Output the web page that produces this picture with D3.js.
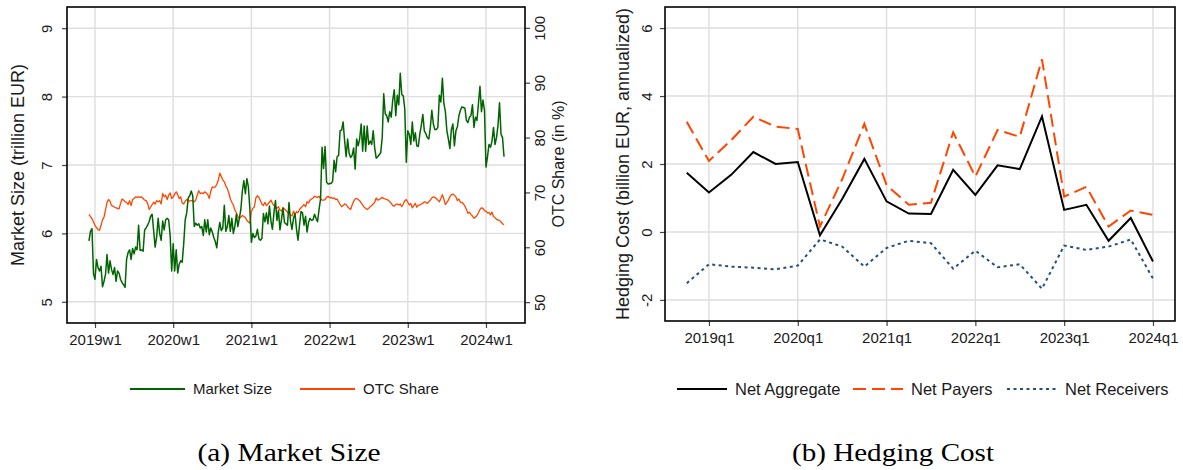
<!DOCTYPE html>
<html>
<head>
<meta charset="utf-8">
<script src="https://cdn.jsdelivr.net/npm/d3@7"></script>
<style>
  body { margin: 0; background: #fff; }
  svg text { font-family: "Liberation Sans", Arial, sans-serif; fill: #1a1a1a; }
  svg text.caption { font-family: "Liberation Serif", "DejaVu Serif", serif; fill: #000; }
</style>
</head>
<body>
<svg id="chart" width="1183" height="470"></svg>
<script>
// panel (a): weekly data, first observation is 2018w49
const firstYear = 2018;
const firstWeek = 49;

const marketSize = [
  5.89, 6.03, 6.07, 5.41, 5.33, 5.62, 5.50, 5.45, 5.52, 5.22,
  5.30, 5.40, 5.69, 5.42, 5.60, 5.47, 5.40, 5.50, 5.30, 5.45,
  5.42, 5.33, 5.28, 5.25, 5.21, 5.62, 5.72, 5.76, 5.62, 5.78,
  5.70, 5.80, 5.76, 6.12, 5.75, 5.76, 5.74, 6.05, 6.08, 6.12,
  6.17, 6.25, 6.28, 6.04, 5.80, 5.95, 6.22, 6.00, 5.90, 6.18,
  6.05, 6.20, 6.22, 6.20, 5.96, 5.45, 5.85, 5.45, 5.76, 5.42,
  5.55, 5.60, 5.58, 5.85, 6.20, 6.30, 6.52, 6.55, 6.62, 6.55,
  6.10, 6.15, 6.12, 6.14, 6.08, 6.10, 5.97, 6.20, 6.02, 6.20,
  5.98, 6.08, 6.02, 5.94, 5.88, 5.79, 6.02, 6.16, 6.04, 6.08,
  6.41, 6.03, 6.10, 6.26, 6.03, 6.22, 6.00, 6.10, 6.28, 6.10,
  6.22, 6.35, 6.62, 6.77, 6.58, 6.80, 6.68, 6.35, 5.87, 6.00,
  5.94, 5.96, 6.06, 5.92, 5.90, 5.93, 6.29, 6.17, 6.30, 6.14,
  6.40, 6.18, 6.06, 6.30, 6.48, 6.19, 6.34, 6.05, 6.20, 6.37,
  6.16, 6.14, 6.12, 6.45, 6.18, 6.06, 6.22, 6.29, 6.06, 5.90,
  6.12, 6.32, 6.30, 6.12, 6.25, 6.02, 6.16, 6.22, 6.19, 6.20,
  6.28, 6.22, 6.17, 6.35, 6.50, 7.26, 6.95, 7.27, 6.75, 6.72,
  6.73, 6.73, 6.76, 7.07, 6.90, 7.12, 7.14, 7.50, 7.51, 7.63,
  7.35, 7.12, 7.38, 7.17, 7.11, 7.14, 7.25, 6.94, 7.38, 7.28,
  7.38, 7.60, 7.20, 7.57, 7.20, 7.57, 7.30, 7.35, 7.30, 7.50,
  7.25, 7.10, 7.12, 7.15, 7.18, 7.40, 8.04, 7.75, 7.72, 7.63,
  7.78, 7.70, 7.95, 8.10, 7.72, 8.02, 7.88, 8.34, 8.03, 8.01,
  7.82, 7.04, 7.50, 7.45, 7.30, 7.63, 7.35, 7.47, 7.28, 7.27,
  7.45, 7.58, 7.74, 7.50, 7.46, 7.40, 7.38, 7.55, 7.80, 7.60,
  7.52, 7.52, 7.55, 8.02, 7.92, 8.27, 7.90, 7.78, 7.50, 7.38,
  7.24, 7.52, 7.60, 7.28, 7.50, 7.56, 7.72, 7.80, 7.85, 7.84,
  7.83, 7.65, 7.62, 7.70, 7.72, 7.88, 7.55, 7.70, 7.65, 7.90,
  8.15, 7.78, 7.95, 7.80, 6.97, 7.12, 7.30, 7.26, 7.35, 7.55,
  7.30, 7.40, 7.58, 7.91, 7.45, 7.40, 7.12
];

const otcShare = [
  66.0, 65.6, 65.2, 64.6, 64.0, 63.6, 63.2, 63.1, 64.0, 65.0,
  65.5, 66.8, 68.2, 68.7, 68.4, 67.6, 67.5, 67.3, 67.2, 67.1,
  67.0, 68.0, 68.8, 68.6, 68.3, 68.2, 67.8, 68.5, 67.6, 68.7,
  68.9, 69.2, 69.1, 69.2, 69.1, 69.2, 68.9, 68.6, 68.5, 68.0,
  66.9, 67.3, 67.8, 68.2, 67.9, 68.5, 68.3, 68.5, 67.9, 69.8,
  69.2, 69.5, 68.7, 69.5, 69.9, 68.9, 69.2, 69.7, 70.1, 69.6,
  68.9, 69.2, 68.1, 67.9, 68.4, 68.7, 68.6, 68.4, 68.5, 68.5,
  68.3, 68.6, 69.5, 70.3, 69.8, 69.9, 69.8, 70.1, 69.9, 69.6,
  68.9, 70.2, 71.0, 70.9, 71.0, 71.5, 72.2, 73.5, 72.9, 72.3,
  71.9, 71.2, 70.7, 69.9, 68.8, 68.2, 67.7, 66.8, 66.3, 65.6,
  65.3, 65.5, 65.8, 65.6, 65.4, 64.9, 64.6, 64.4, 66.5, 67.1,
  67.4, 69.0, 69.4, 69.1, 68.5, 67.9, 67.6, 68.2, 67.6, 67.9,
  68.2, 68.6, 68.0, 67.6, 67.4, 67.1, 67.4, 66.8, 66.6, 67.2,
  67.0, 66.7, 66.4, 66.2, 65.9, 65.7, 66.6, 65.9, 66.5, 66.3,
  66.9, 67.2, 67.5, 67.8, 67.4, 68.3, 68.1, 68.6, 68.8, 69.0,
  69.3, 69.2, 69.1, 69.3, 68.8, 68.6, 68.6, 68.7, 69.1, 69.3,
  69.0, 69.1, 68.9, 69.0, 68.7, 68.8, 68.3, 67.8, 67.4, 67.6,
  67.9, 67.8, 67.4, 67.1, 66.9, 67.7, 68.4, 68.8, 68.9, 68.7,
  68.5, 68.1, 67.7, 67.3, 67.1, 66.9, 67.1, 67.4, 67.6, 67.9,
  68.2, 69.0, 68.6, 68.7, 68.9, 69.1, 68.9, 68.8, 68.7, 68.6,
  68.3, 68.0, 67.6, 67.5, 67.8, 67.9, 67.7, 67.9, 67.4, 67.9,
  68.5, 68.7, 68.2, 67.7, 68.0, 67.2, 67.6, 68.0, 67.3, 67.7,
  67.7, 67.9, 68.0, 68.3, 68.2, 68.0, 68.3, 68.6, 69.0, 69.2,
  69.1, 68.9, 68.6, 68.3, 68.9, 69.6, 68.8, 67.8, 68.2, 68.6,
  69.2, 69.6, 69.7, 69.5, 69.2, 68.5, 68.8, 68.2, 68.2, 67.9,
  67.5, 66.9, 66.2, 66.4, 66.0, 65.7, 65.3, 65.5, 65.8, 66.3,
  66.9, 67.2, 67.1, 66.7, 66.6, 66.3, 66.3, 65.9, 66.4, 65.6,
  65.4, 65.1, 65.0, 64.9, 64.6, 64.3, 64.1
];

const weekTickYears = [2019, 2020, 2021, 2022, 2023, 2024];
const sizeTicks = [5, 6, 7, 8, 9];
const shareTicks = [50, 60, 70, 80, 90, 100];

// panel (b): quarterly hedging cost
const quarters = [
  '2018q4', '2019q1', '2019q2', '2019q3', '2019q4', '2020q1', '2020q2', '2020q3',
  '2020q4', '2021q1', '2021q2', '2021q3', '2021q4', '2022q1', '2022q2', '2022q3',
  '2022q4', '2023q1', '2023q2', '2023q3', '2023q4', '2024q1'
];
const netAggregate = [
  1.74, 1.16, 1.68, 2.35, 2.00, 2.06, -0.10, 0.97, 2.15, 0.90, 0.54,
  0.53, 1.83, 1.09, 1.96, 1.85, 3.40, 0.65, 0.80, -0.26, 0.41, -0.87
];
const netPayers = [
  3.24, 2.09, 2.70, 3.39, 3.10, 3.03, 0.16, 1.55, 3.18, 1.38, 0.80,
  0.86, 2.93, 1.63, 3.00, 2.80, 5.08, 1.04, 1.33, 0.16, 0.63, 0.50
];
const netReceivers = [
  -1.51, -0.95, -1.02, -1.05, -1.10, -0.99, -0.22, -0.43, -1.02, -0.47, -0.26,
  -0.33, -1.08, -0.55, -1.04, -0.95, -1.67, -0.40, -0.53, -0.43, -0.22, -1.37
];
const quarterTickYears = [2019, 2020, 2021, 2022, 2023, 2024];
const costTicks = [-2, 0, 2, 4, 6];

const weekToYear = (i) => firstYear + (firstWeek - 1 + i) / 52;
const quarterToYear = (q) => +q.slice(0, 4) + (+q.slice(5) - 1) / 4;

const svg = d3.select('#chart');
svg.append('rect').attr('width', 1183).attr('height', 470).attr('fill', '#fff');

const gridColor = '#dedede';
const plain = (d) => String(d);

function styleAxis(g, size) {
  g.attr('font-family', '"Liberation Sans", Arial, sans-serif')
    .attr('font-size', size || 15);
  g.select('.domain').remove();
  g.selectAll('.tick line').attr('stroke', '#444').attr('stroke-width', 1.2);
  g.selectAll('.tick text').attr('fill', '#1a1a1a');
}

// vertical tick labels, like the original
function rotateLabels(g, offset) {
  g.selectAll('.tick text')
    .attr('x', null)
    .attr('dy', '0.35em')
    .attr('text-anchor', 'middle')
    .attr('transform', `translate(${offset},0) rotate(-90)`);
}

function gridLines(g, xs, ys, x, y, box) {
  g.selectAll('line.v').data(xs).join('line')
    .attr('x1', (d) => x(d)).attr('x2', (d) => x(d))
    .attr('y1', box.top).attr('y2', box.bottom)
    .attr('stroke', gridColor).attr('stroke-width', 1.4);
  g.selectAll('line.h').data(ys).join('line')
    .attr('x1', box.left).attr('x2', box.right)
    .attr('y1', (d) => y(d)).attr('y2', (d) => y(d))
    .attr('stroke', gridColor).attr('stroke-width', 1.4);
}

function frame(box) {
  svg.append('rect')
    .attr('x', box.left).attr('y', box.top)
    .attr('width', box.right - box.left).attr('height', box.bottom - box.top)
    .attr('fill', 'none').attr('stroke', '#000').attr('stroke-width', 1.6);
}

function verticalTitle(text, cx, cy, size) {
  svg.append('text')
    .attr('transform', `translate(${cx},${cy}) rotate(-90)`)
    .attr('text-anchor', 'middle')
    .attr('dy', '0.35em')
    .attr('font-size', size)
    .text(text);
}

// ---------- panel (a) ----------
const boxA = { left: 67, right: 525, top: 7, bottom: 323 };
const xA = d3.scaleLinear().domain([2018.642, 2024.499]).range([boxA.left, boxA.right]);
const ySize = d3.scaleLinear().domain([4.69, 9.31]).range([boxA.bottom, boxA.top]);
const yShare = d3.scaleLinear().domain([46.2, 103.8]).range([boxA.bottom, boxA.top]);

gridLines(svg.append('g'), weekTickYears, sizeTicks, xA, ySize, boxA);

const sizeLine = d3.line().x((d, i) => xA(weekToYear(i))).y((d) => ySize(d));
const shareLine = d3.line().x((d, i) => xA(weekToYear(i))).y((d) => yShare(d));

svg.append('path').datum(otcShare)
  .attr('d', shareLine).attr('fill', 'none')
  .attr('stroke', '#ff4500').attr('stroke-width', 1.3).attr('stroke-linejoin', 'round');
svg.append('path').datum(marketSize)
  .attr('d', sizeLine).attr('fill', 'none')
  .attr('stroke', '#006400').attr('stroke-width', 1.5).attr('stroke-linejoin', 'round');

svg.append('g')
  .attr('transform', `translate(0,${boxA.bottom})`)
  .call(d3.axisBottom(xA).tickValues(weekTickYears).tickSize(5).tickPadding(6)
    .tickFormat((d) => `${d}w1`))
  .call(styleAxis);

svg.append('g')
  .attr('transform', `translate(${boxA.left},0)`)
  .call(d3.axisLeft(ySize).tickValues(sizeTicks).tickSize(5).tickFormat(plain))
  .call(styleAxis)
  .call(rotateLabels, -20);

svg.append('g')
  .attr('transform', `translate(${boxA.right},0)`)
  .call(d3.axisRight(yShare).tickValues(shareTicks).tickSize(5).tickFormat(plain))
  .call(styleAxis)
  .call(rotateLabels, 15);

frame(boxA);
verticalTitle('Market Size (trillion EUR)', 18, 165, 18);
verticalTitle('OTC Share (in %)', 558, 164, 16);

// ---------- panel (b) ----------
const boxB = { left: 665, right: 1175, top: 7, bottom: 321 };
const xB = d3.scaleLinear().domain([2018.505, 2024.248]).range([boxB.left, boxB.right]);
const yCost = d3.scaleLinear().domain([-2.62, 6.62]).range([boxB.bottom, boxB.top]);

gridLines(svg.append('g'), quarterTickYears, costTicks, xB, yCost, boxB);

const costLine = d3.line().x((d, i) => xB(quarterToYear(quarters[i]))).y((d) => yCost(d));

const costSeries = [
  { values: netReceivers, color: '#24507a', dash: '3,3.5', width: 2 },
  { values: netPayers, color: '#ff4500', dash: '13,6', width: 2 },
  { values: netAggregate, color: '#000', dash: null, width: 2 }
];

svg.append('g').selectAll('path').data(costSeries).join('path')
  .attr('d', (d) => costLine(d.values))
  .attr('fill', 'none')
  .attr('stroke', (d) => d.color)
  .attr('stroke-width', (d) => d.width)
  .attr('stroke-dasharray', (d) => d.dash);

svg.append('g')
  .attr('transform', `translate(0,${boxB.bottom})`)
  .call(d3.axisBottom(xB).tickValues(quarterTickYears).tickSize(5).tickPadding(6)
    .tickFormat((d) => `${d}q1`))
  .call(styleAxis);

svg.append('g')
  .attr('transform', `translate(${boxB.left},0)`)
  .call(d3.axisLeft(yCost).tickValues(costTicks).tickSize(5).tickFormat(plain))
  .call(styleAxis)
  .call(rotateLabels, -18);

frame(boxB);
verticalTitle('Hedging Cost (billion EUR, annualized)', 623, 164, 18);

// ---------- legends ----------
const legendA = [
  { label: 'Market Size', color: '#006400', x: 130, dash: null },
  { label: 'OTC Share', color: '#ff4500', x: 300, dash: null }
];
const legendB = [
  { label: 'Net Aggregate', color: '#000', x: 677, dash: null },
  { label: 'Net Payers', color: '#ff4500', x: 853, dash: '13,6' },
  { label: 'Net Receivers', color: '#24507a', x: 1007, dash: '3,3.5' }
];

function legend(items, size, len) {
  const g = svg.append('g').selectAll('g').data(items).join('g')
    .attr('transform', (d) => `translate(${d.x},389)`);
  g.append('line')
    .attr('x1', 0).attr('x2', len)
    .attr('stroke', (d) => d.color).attr('stroke-width', 2)
    .attr('stroke-dasharray', (d) => d.dash);
  g.append('text')
    .attr('x', len + 8).attr('dy', '0.35em')
    .attr('font-size', size)
    .text((d) => d.label);
}
legend(legendA, 15, 55);
legend(legendB, 16.5, 50);

// ---------- captions ----------
const captions = [
  { text: '(a) Market Size', x: 289, width: 183 },
  { text: '(b) Hedging Cost', x: 893, width: 202 }
];
svg.append('g').selectAll('text').data(captions).join('text')
  .attr('class', 'caption')
  .attr('x', (d) => d.x - d.width / 2).attr('y', 461)
  .attr('font-size', 25)
  .attr('textLength', (d) => d.width)
  .attr('lengthAdjust', 'spacingAndGlyphs')
  .text((d) => d.text);
</script>
</body>
</html>
